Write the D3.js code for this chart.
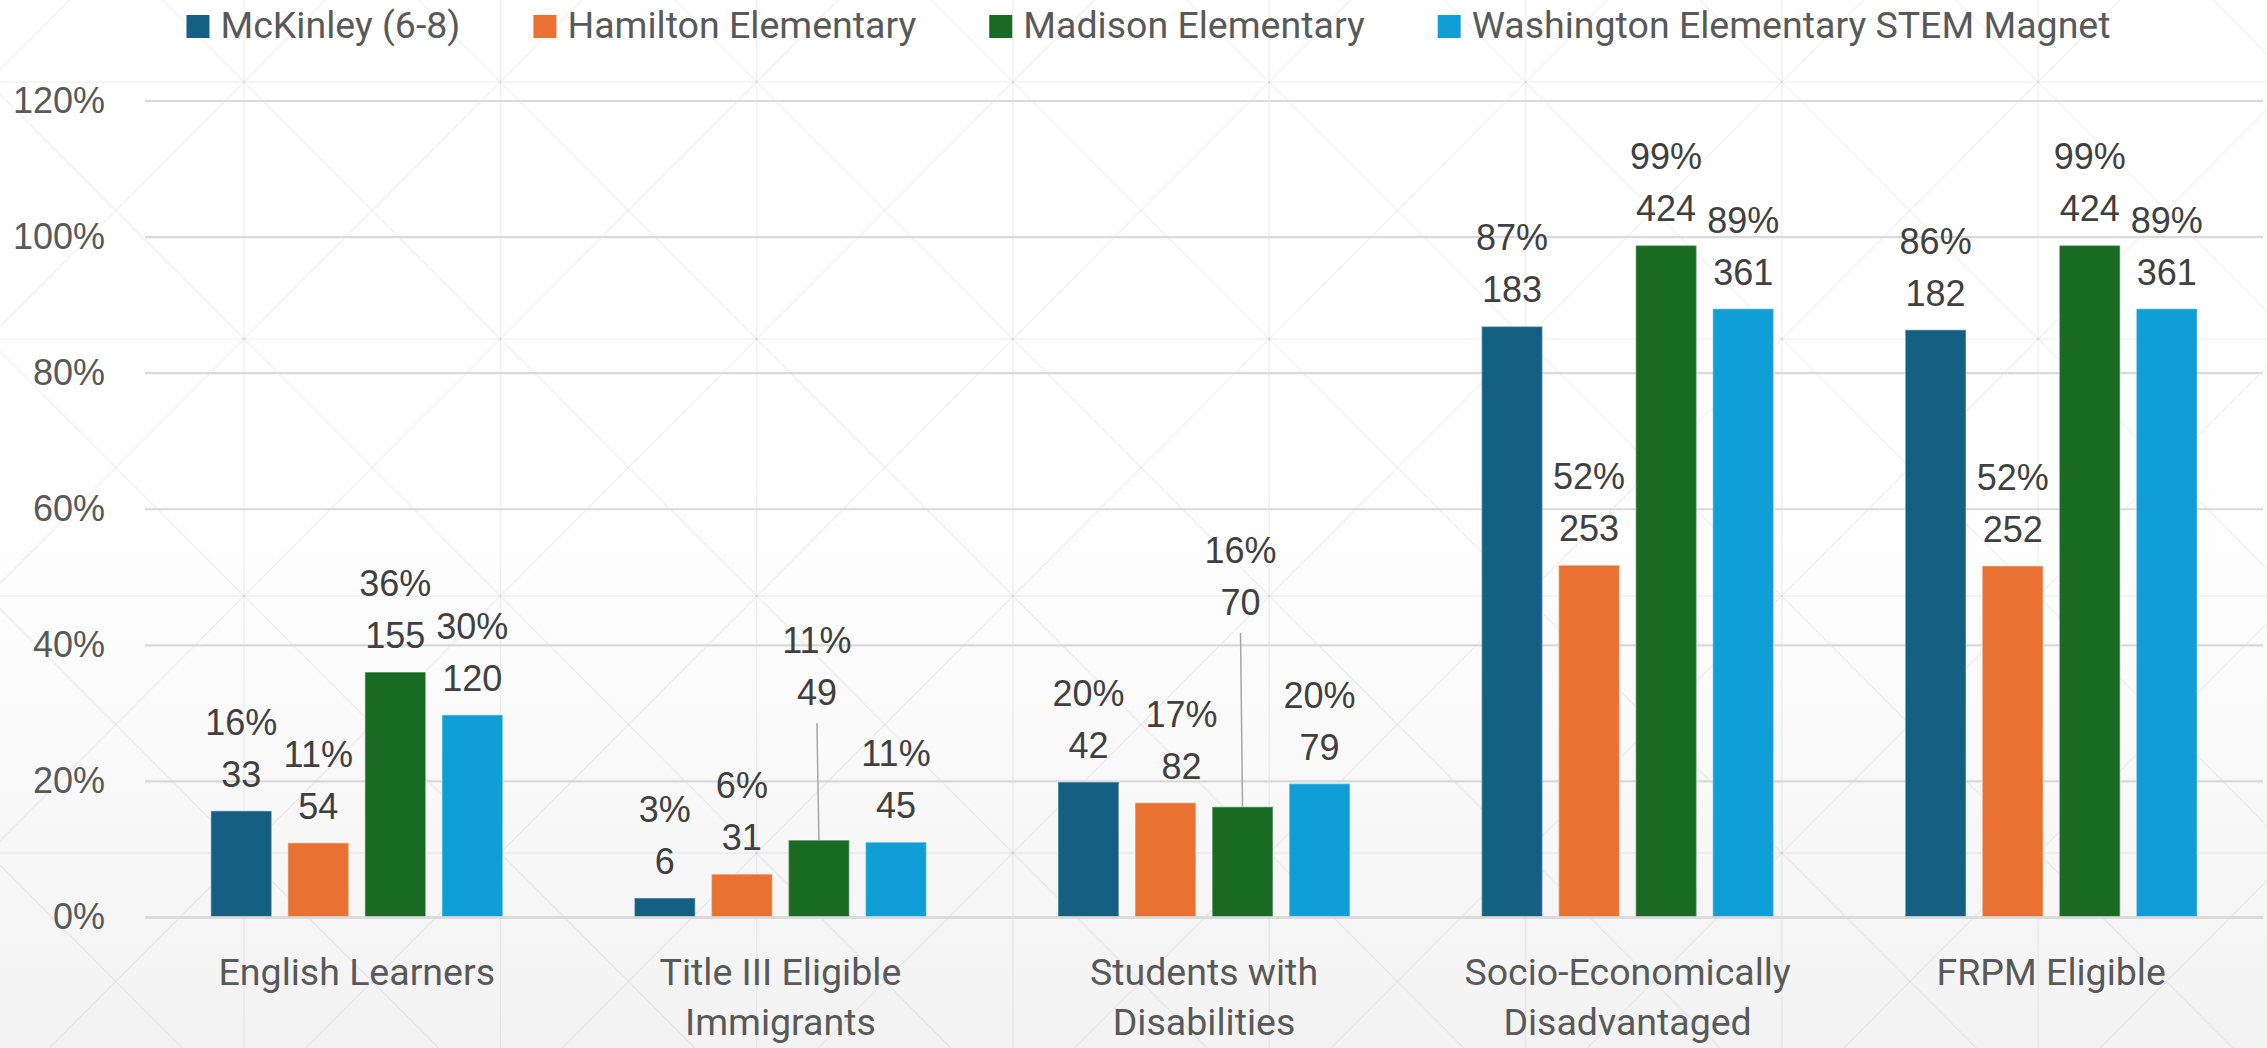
<!DOCTYPE html>
<html>
<head>
<meta charset="utf-8">
<script src="https://cdn.jsdelivr.net/npm/d3@7"></script>
<style>
  body { margin: 0; background: #fff; }
</style>
</head>
<body>
<div id="chart"></div>
<script>
// ---- data ----
var categories = ["English Learners", "Title III Eligible Immigrants", "Students with Disabilities",
                  "Socio-Economically Disadvantaged", "FRPM Eligible"];
var series = ["McKinley (6-8)", "Hamilton Elementary", "Madison Elementary", "Washington Elementary STEM Magnet"];

// percent of enrollment (bar height)
var mckinleyPct   = [15.6, 2.8, 19.85, 86.8, 86.3];
var hamiltonPct   = [10.9, 6.3, 16.8, 51.7, 51.6];
var madisonPct    = [36.0, 11.3, 16.2, 98.7, 98.7];
var washingtonPct = [29.7, 11.0, 19.6, 89.4, 89.4];

// student counts (second line of label)
var mckinleyCount   = [33, 6, 42, 183, 182];
var hamiltonCount   = [54, 31, 82, 253, 252];
var madisonCount    = [155, 49, 70, 424, 424];
var washingtonCount = [120, 45, 79, 361, 361];

var yTicks = [0, 20, 40, 60, 80, 100, 120];

// ---- styling / layout ----
var colors = ["#156082", "#E97132", "#196B24", "#0F9ED5"];
var pctBySeries = [mckinleyPct, hamiltonPct, madisonPct, washingtonPct];
var countBySeries = [mckinleyCount, hamiltonCount, madisonCount, washingtonCount];

// labels Excel moved off the bar (dx, dy), some with leader lines
var labelNudge = {
  "Title III Eligible Immigrants|Madison Elementary": [-2, -111, true],
  "Students with Disabilities|Madison Elementary": [-2, -168, true],
  "Students with Disabilities|Hamilton Elementary": [16, 0, false]
};

var W = 2267, H = 1048,
    plotLeft = 145, plotRight = 2263, plotTop = 100.5, plotBottom = 917;

var svg = d3.select("#chart").append("svg")
  .attr("width", W).attr("height", H);

// background gradient
var defs = svg.append("defs");
var grad = defs.append("linearGradient").attr("id", "bg")
  .attr("x1", 0).attr("y1", 0).attr("x2", 0).attr("y2", 1);
grad.append("stop").attr("offset", "0%").attr("stop-color", "#ffffff");
grad.append("stop").attr("offset", "45%").attr("stop-color", "#ffffff");
grad.append("stop").attr("offset", "100%").attr("stop-color", "#f3f3f3");
svg.append("rect").attr("width", W).attr("height", H).attr("fill", "url(#bg)");

// faint lattice texture
var cw = 256.3, ch = 257, ox = 244 - cw, oy = 82 - ch;
var tex = svg.append("g").attr("stroke", "#000").attr("stroke-opacity", 0.05).attr("stroke-width", 1.5);
d3.range(0, 11).forEach(function(i) {
  var x = ox + i * cw;
  tex.append("line").attr("x1", x).attr("x2", x).attr("y1", 0).attr("y2", H);
});
d3.range(0, 6).forEach(function(j) {
  var yy = oy + j * ch;
  tex.append("line").attr("x1", 0).attr("x2", W).attr("y1", yy).attr("y2", yy);
});
d3.range(0, 10).forEach(function(i) {
  d3.range(0, 5).forEach(function(j) {
    var ax = ox + i * cw, ay = oy + j * ch;
    tex.append("line").attr("x1", ax).attr("y1", ay).attr("x2", ax + cw).attr("y2", ay + ch);
    tex.append("line").attr("x1", ax + cw).attr("y1", ay).attr("x2", ax).attr("y2", ay + ch);
  });
});

// scales
var y = d3.scaleLinear().domain([0, 120]).range([plotBottom, plotTop]);
var x0 = d3.scaleBand().domain(categories).range([plotLeft, plotRight]);
var groupW = 292;
var x1 = d3.scaleBand().domain(series).range([0, groupW]).paddingInner(0.21);
var groupOff = (x0.bandwidth() - groupW) / 2;

// gridlines
var grid = svg.append("g")
  .attr("transform", "translate(" + plotLeft + ",0)")
  .call(d3.axisLeft(y).tickValues(yTicks).tickSize(-(plotRight - plotLeft)).tickFormat(""));
grid.select(".domain").remove();
grid.selectAll("line").attr("stroke", "#d9d9d9").attr("stroke-width", 2.2);

// y axis labels
var yAxis = svg.append("g")
  .attr("transform", "translate(" + plotLeft + ",0)")
  .call(d3.axisLeft(y).tickValues(yTicks).tickSize(0).tickPadding(40).tickFormat(function(d) { return d + "%"; }));
yAxis.select(".domain").remove();
yAxis.selectAll("text")
  .attr("font-family", "'Liberation Sans', Arial, sans-serif")
  .attr("font-size", 36).attr("fill", "#595959");

// bars
var rows = [];
categories.forEach(function(c, i) {
  series.forEach(function(s, j) {
    rows.push({cat: c, ser: s, j: j, pct: pctBySeries[j][i], n: countBySeries[j][i]});
  });
});

svg.append("g").selectAll("rect")
  .data(rows).enter().append("rect")
  .attr("x", function(d) { return x0(d.cat) + groupOff + x1(d.ser); })
  .attr("y", function(d) { return y(d.pct); })
  .attr("width", x1.bandwidth())
  .attr("height", function(d) { return y(0) - y(d.pct); })
  .attr("fill", function(d) { return colors[d.j]; })
  .attr("stroke", "#ffffff").attr("stroke-opacity", 0.35).attr("stroke-width", 1.5);

// x axis
var xAxis = svg.append("g")
  .attr("transform", "translate(0," + plotBottom + ")")
  .call(d3.axisBottom(x0).tickSize(0).tickFormat(""));
xAxis.select(".domain").attr("stroke", "#d9d9d9").attr("stroke-width", 2.5);

var catFont = "Roboto, 'Open Sans', sans-serif";
var catLabels = svg.append("g").selectAll("text")
  .data(categories).enter().append("text")
  .attr("x", function(d) { return x0(d) + x0.bandwidth() / 2; })
  .attr("y", 985)
  .attr("text-anchor", "middle")
  .attr("font-family", catFont).attr("font-size", 37.5).attr("fill", "#595959");

catLabels.each(function(d) {
  var t = d3.select(this), words = d.split(" "), line = [];
  var tsp = t.append("tspan").attr("x", t.attr("x")).attr("dy", 0);
  words.forEach(function(w) {
    line.push(w);
    tsp.text(line.join(" "));
    if (tsp.node().getComputedTextLength() > 310 && line.length > 1) {
      line.pop();
      tsp.text(line.join(" "));
      line = [w];
      tsp = t.append("tspan").attr("x", t.attr("x")).attr("dy", 50).text(w);
    }
  });
});

// data labels
var labels = svg.append("g")
  .attr("font-family", "'Liberation Sans', Arial, sans-serif")
  .attr("font-size", 36).attr("fill", "#404040").attr("text-anchor", "middle");

rows.forEach(function(d) {
  var cx = x0(d.cat) + groupOff + x1(d.ser) + x1.bandwidth() / 2;
  var barTop = y(d.pct);
  var nudge = labelNudge[d.cat + "|" + d.ser] || [0, 0, false];
  var bx = cx + nudge[0], by = barTop - 24 + nudge[1];
  if (nudge[2]) {
    labels.append("line")
      .attr("x1", bx).attr("y1", by + 18).attr("x2", cx).attr("y2", barTop)
      .attr("stroke", "#a6a6a6").attr("stroke-width", 1.5);
  }
  var t = labels.append("text").attr("x", bx).attr("y", by);
  t.append("tspan").attr("x", bx).attr("dy", -52).text(Math.round(d.pct) + "%");
  t.append("tspan").attr("x", bx).attr("dy", 52).text(d.n);
});

// legend
var legend = svg.append("g");
var items = legend.selectAll("g").data(series).enter().append("g");
items.append("rect").attr("width", 23).attr("height", 23).attr("y", 15)
  .attr("fill", function(d, i) { return colors[i]; });
items.append("text").attr("x", 34).attr("y", 38)
  .attr("font-family", catFont).attr("font-size", 37.5).attr("fill", "#595959")
  .text(function(d) { return d; });
var lx = 0, pos = [];
items.each(function() {
  pos.push(lx);
  lx += 34 + d3.select(this).select("text").node().getComputedTextLength() + 73;
});
var total = lx - 73, start = 1148.5 - total / 2;
items.attr("transform", function(d, i) { return "translate(" + (start + pos[i]) + ",0)"; });
</script>
</body>
</html>
